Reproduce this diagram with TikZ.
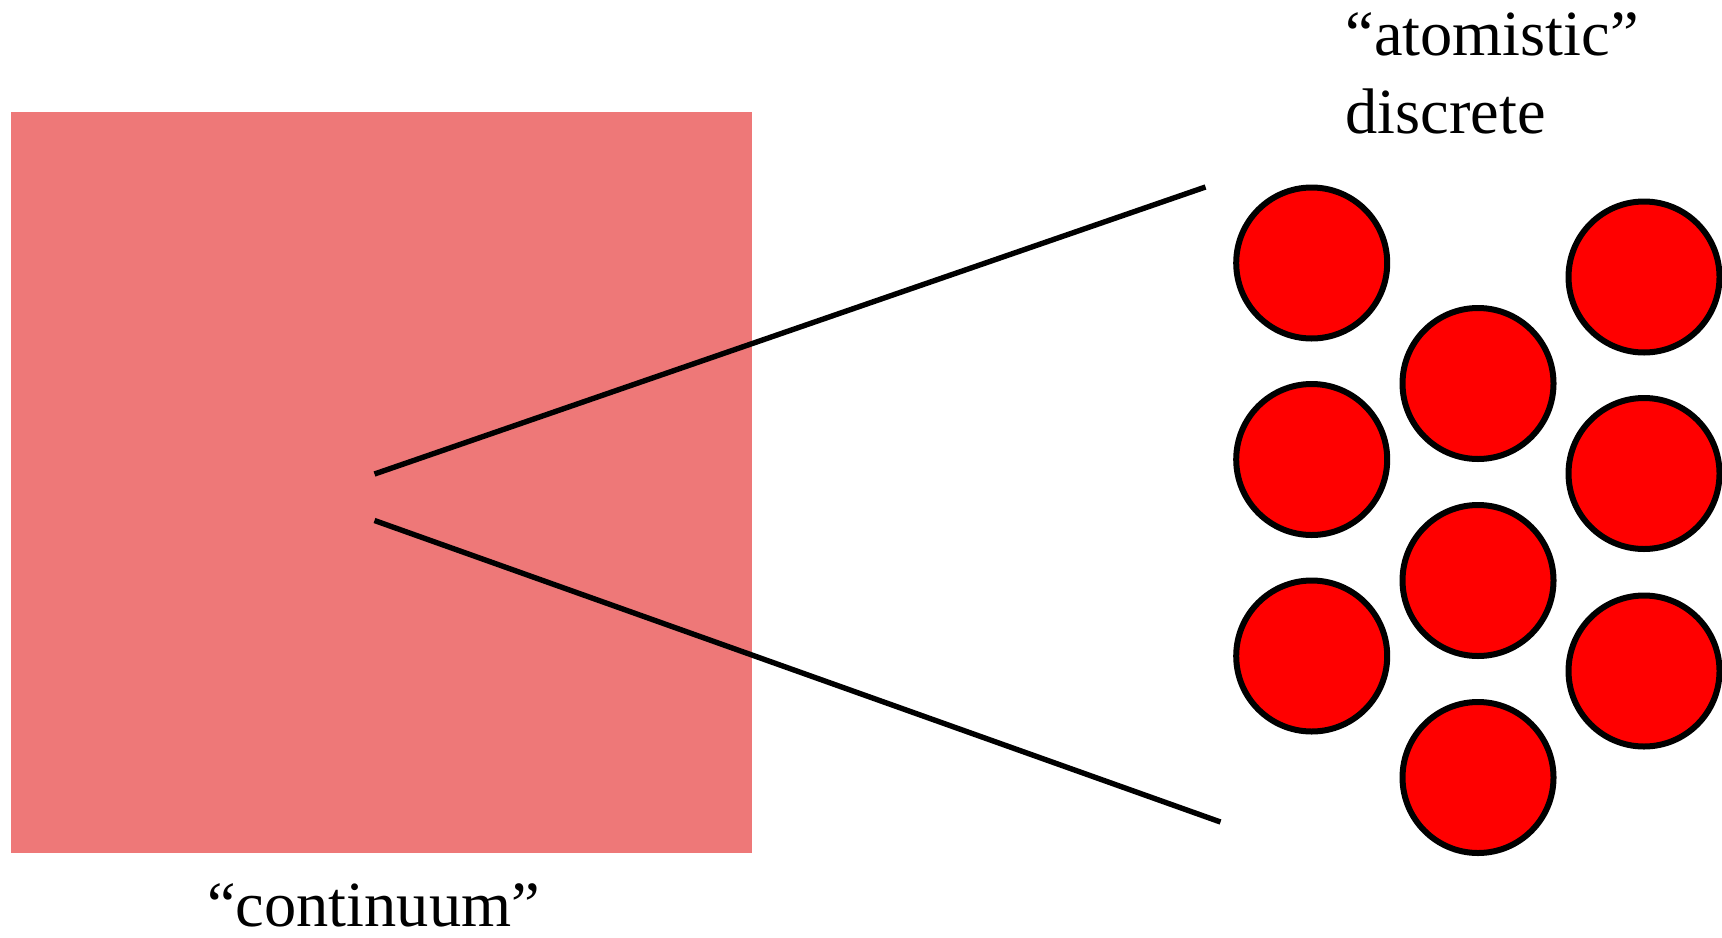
\documentclass[tikz,border=0pt]{standalone}
\usepackage{fontspec}
\setmainfont{Liberation Serif}
\definecolor{slab}{RGB}{238,120,120}
\definecolor{atomred}{RGB}{255,0,0}
\begin{document}
\begin{tikzpicture}[x=0.5pt,y=-0.5pt,
  atom/.style={circle,draw=black,fill=atomred,line width=3pt,minimum size=75.5pt,inner sep=0pt},
  zoomline/.style={draw=black,line width=2.7pt},
  caption/.style={font=\fontsize{32.2pt}{39pt}\selectfont,inner sep=0pt,anchor=base west}]
\useasboundingbox (0,0) rectangle (1722,937);
% continuum block
\node[fill=slab,inner sep=0pt,minimum width=370.5pt,minimum height=370.5pt,anchor=north west] (block) at (11,112) {};
\node[caption,text depth=0pt] (contlabel) at (207,926) {“continuum”};
% atoms on a hexagonal lattice
\node[atom] (a1) at (1311.7,263) {};
\node[atom] (a2) at (1311.7,459.5) {};
\node[atom] (a3) at (1311.7,656) {};
\node[atom] (b1) at (1478,383.5) {};
\node[atom] (b2) at (1478,580.5) {};
\node[atom] (b3) at (1478,777.5) {};
\node[atom] (c1) at (1644,277) {};
\node[atom] (c2) at (1644,473.5) {};
\node[atom] (c3) at (1644,671) {};
\node[caption] (atomlabel) at (1345,55) {“atomistic”};
\node[caption] (disclabel) at (1345,133) {discrete};
% magnifying lines
\coordinate (p1) at (374.5,474);
\coordinate (q1) at (1205.5,187);
\coordinate (p2) at (374.5,520.5);
\coordinate (q2) at (1220.5,822);
\draw[zoomline] (p1) -- (q1);
\draw[zoomline] (p2) -- (q2);
\end{tikzpicture}
\end{document}
